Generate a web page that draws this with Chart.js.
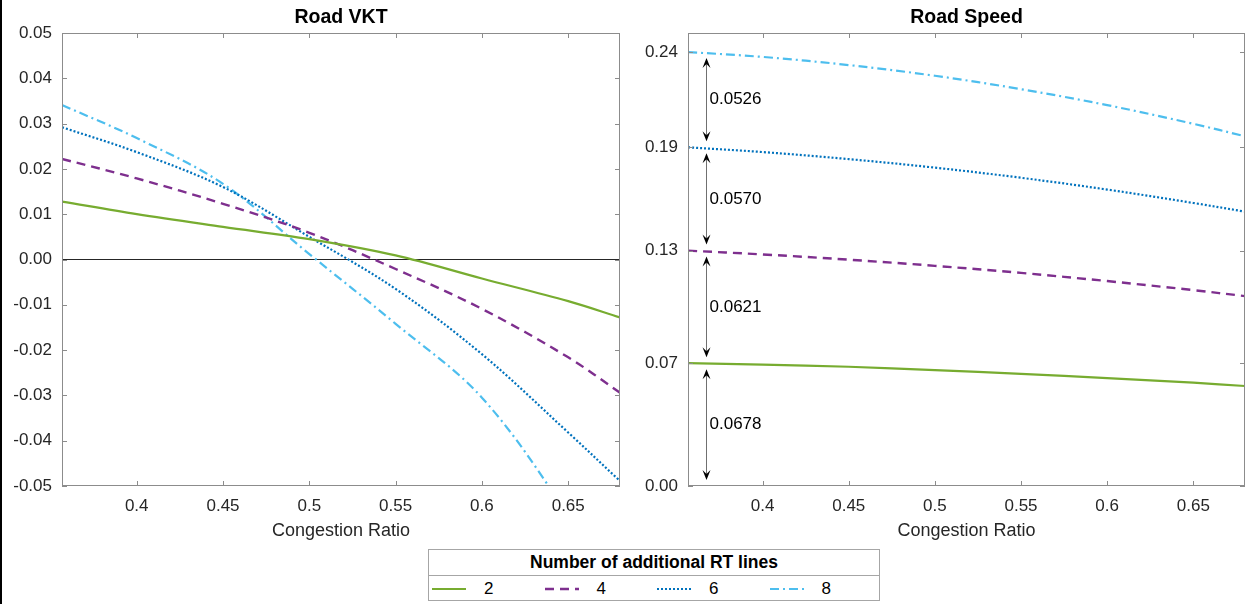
<!DOCTYPE html>
<html lang="en">
<head>
  <meta charset="UTF-8">
  <title>Road VKT / Road Speed</title>
  <script src="https://cdn.jsdelivr.net/npm/chart.js"></script>
  <style>
    body {
      margin: 0;
      background: #ffffff;
      font-family: "Liberation Sans", Arial, sans-serif;
    }

    #page {
      position: relative;
      width: 1247px;
      height: 604px;
      overflow: hidden;
    }

    #edge {
      position: absolute;
      left: 0;
      top: 0;
      width: 2px;
      height: 604px;
      background: #000;
    }

    #vkt { position: absolute; left: 0; top: 0; }
    #speed { position: absolute; left: 624px; top: 0; }

    #legend {
      position: absolute;
      left: 428px;
      top: 549px;
      width: 452px;
      height: 52px;
      border: 1px solid #a6a6a6;
      box-sizing: border-box;
      background: #fff;
    }

    .lg-title {
      height: 25px;
      line-height: 25px;
      text-align: center;
      font-weight: bold;
      font-size: 17.5px;
      color: #000;
      border-bottom: 1px solid #a6a6a6;
    }

    .lg-row {
      display: flex;
      height: 25px;
      align-items: center;
    }

    .lg-item {
      width: 113px;
      display: flex;
      align-items: center;
      padding-left: 3px;
      box-sizing: border-box;
      font-size: 17px;
      color: #000;
    }

    .lg-item svg { margin-right: 18px; }
  </style>
</head>
<body>
  <div id="page">
    <div id="edge"></div>
    <canvas id="vkt" width="624" height="545"></canvas>
    <canvas id="speed" width="623" height="545"></canvas>
    <div id="legend">
      <div class="lg-title">Number of additional RT lines</div>
      <div class="lg-row" id="lgRow"></div>
    </div>
  </div>

  <script>
    // ---- data ----
    const seriesNames = ['2', '4', '6', '8'];
    const congestion = [0.3567, 0.40, 0.45, 0.50, 0.55, 0.60, 0.65, 0.68];

    const vkt2 = [0.0128, 0.0100, 0.0072, 0.0045, 0.0009, -0.0042, -0.0092, -0.0128];
    const vkt4 = [0.0222, 0.0179, 0.0123, 0.0059, -0.0021, -0.0109, -0.0216, -0.0294];
    const vkt6 = [0.0292, 0.0237, 0.0160, 0.0050, -0.0065, -0.0209, -0.0382, -0.0489];
    const vkt8 = [0.0341, 0.0268, 0.0167, 0.0012, -0.0142, -0.0305, -0.0565, -0.0760];

    const speed2 = [0.0678, 0.0670, 0.0658, 0.0640, 0.0619, 0.0595, 0.0570, 0.0552];
    const speed4 = [0.1299, 0.1278, 0.1249, 0.1215, 0.1176, 0.1131, 0.1081, 0.1048];
    const speed6 = [0.1869, 0.1843, 0.1804, 0.1757, 0.1701, 0.1636, 0.1562, 0.1514];
    const speed8 = [0.2395, 0.2368, 0.2323, 0.2264, 0.2190, 0.2102, 0.1999, 0.1930];

    const xTicks = [0.40, 0.45, 0.50, 0.55, 0.60, 0.65];
    const xTickLabels = ['0.4', '0.45', '0.5', '0.55', '0.6', '0.65'];

    const vktTicks = [-0.05, -0.04, -0.03, -0.02, -0.01, 0, 0.01, 0.02, 0.03, 0.04, 0.05];
    const vktTickLabels = ['-0.05', '-0.04', '-0.03', '-0.02', '-0.01', '0.00', '0.01', '0.02', '0.03', '0.04', '0.05'];

    const speedTicks = [0, 0.0678, 0.1299, 0.1869, 0.2395];
    const speedTickLabels = ['0.00', '0.07', '0.13', '0.19', '0.24'];

    // double arrows between the starting speeds
    const gapLabels = ['0.0678', '0.0621', '0.0570', '0.0526'];
    const arrowAt = 0.3674;

    // ---- styles ----
    const colors = ['#77AC30', '#7E2F8E', '#0072BD', '#4DBEEE'];
    const dashes = [[], [9, 6], [2, 2], [9, 4, 2, 4]];
    const widths = [2.2, 2.4, 2.2, 2.2];
    const axisGrey = '#8c8c8c';
    const tickColor = '#262626';

    function pts(ys) {
      return congestion.map((x, i) => ({ x: x, y: ys[i] }));
    }

    function lineSet(i, ys) {
      return {
        label: seriesNames[i],
        data: pts(ys),
        borderColor: colors[i],
        borderWidth: widths[i],
        borderDash: dashes[i],
        pointRadius: 0,
        fill: false,
        tension: 0.35
      };
    }

    // box around the plot area with inward ticks on all four sides
    const framePlugin = {
      id: 'frame',
      afterDatasetsDraw(chart) {
        const ctx = chart.ctx;
        const a = chart.chartArea;
        const xs = chart.scales.x;
        const ys = chart.scales.y;
        ctx.save();
        ctx.strokeStyle = axisGrey;
        ctx.lineWidth = 1;
        ctx.strokeRect(a.left + 0.5, a.top + 0.5, a.right - a.left - 1, a.bottom - a.top - 1);
        ctx.beginPath();
        xTicks.forEach(v => {
          const px = Math.round(xs.getPixelForValue(v)) + 0.5;
          ctx.moveTo(px, a.bottom); ctx.lineTo(px, a.bottom - 5);
          ctx.moveTo(px, a.top); ctx.lineTo(px, a.top + 5);
        });
        ys.ticks.forEach(t => {
          const py = Math.round(ys.getPixelForValue(t.value)) + 0.5;
          ctx.moveTo(a.left, py); ctx.lineTo(a.left + 5, py);
          ctx.moveTo(a.right, py); ctx.lineTo(a.right - 5, py);
        });
        ctx.stroke();
        ctx.restore();
      }
    };

    function arrowHead(ctx, x, y, dir) {
      // dir -1 points up, +1 points down
      ctx.beginPath();
      ctx.moveTo(x, y);
      ctx.lineTo(x - 4, y - dir * 10);
      ctx.lineTo(x, y - dir * 6);
      ctx.lineTo(x + 4, y - dir * 10);
      ctx.closePath();
      ctx.fill();
    }

    const gapArrows = {
      id: 'gapArrows',
      afterDatasetsDraw(chart) {
        const ctx = chart.ctx;
        const xs = chart.scales.x;
        const ys = chart.scales.y;
        const x = Math.round(xs.getPixelForValue(arrowAt)) + 0.5;
        ctx.save();
        for (let i = 0; i < gapLabels.length; i++) {
          const yLow = ys.getPixelForValue(speedTicks[i]) - 6;
          const yHigh = ys.getPixelForValue(speedTicks[i + 1]) + 6;
          ctx.strokeStyle = '#707070';
          ctx.lineWidth = 1;
          ctx.beginPath();
          ctx.moveTo(x, yLow - 4);
          ctx.lineTo(x, yHigh + 4);
          ctx.stroke();
          ctx.fillStyle = '#000';
          arrowHead(ctx, x, yHigh, -1);
          arrowHead(ctx, x, yLow, 1);
          ctx.font = '17px "Liberation Sans", Arial, sans-serif';
          ctx.textAlign = 'left';
          ctx.textBaseline = 'middle';
          ctx.fillText(gapLabels[i], x + 3, (yLow + yHigh) / 2);
        }
        ctx.restore();
      }
    };

    function makeOptions(title, yMin, yMax, yTicks, yLabels, yWidth, padRight) {
      return {
        responsive: false,
        animation: false,
        devicePixelRatio: 1,
        layout: { padding: { left: 0, right: padRight, top: 0, bottom: 0 } },
        plugins: {
          legend: { display: false },
          tooltip: { enabled: false },
          title: {
            display: true,
            fullSize: false,
            text: title,
            color: '#000',
            font: { family: '"Liberation Sans", Arial, sans-serif', size: 19.5, weight: 'bold' },
            padding: { top: 6, bottom: 3.6 }
          }
        },
        scales: {
          x: {
            type: 'linear',
            min: congestion[0],
            max: congestion[congestion.length - 1],
            grid: { display: false, drawTicks: false },
            border: { display: false },
            afterBuildTicks: s => { s.ticks = xTicks.map(v => ({ value: v })); },
            afterFit: s => { s.height = 59; },
            ticks: {
              autoSkip: false,
              maxRotation: 0,
              padding: 10,
              color: tickColor,
              font: { family: '"Liberation Sans", Arial, sans-serif', size: 17 },
              callback: (v, i) => xTickLabels[i]
            },
            title: {
              display: true,
              text: 'Congestion Ratio',
              color: tickColor,
              font: { family: '"Liberation Sans", Arial, sans-serif', size: 18 },
              padding: { top: 0, bottom: 3 }
            }
          },
          y: {
            type: 'linear',
            min: yMin,
            max: yMax,
            grid: { display: false, drawTicks: false },
            border: { display: false },
            afterBuildTicks: s => { s.ticks = yTicks.map(v => ({ value: v })); },
            afterFit: s => { s.width = yWidth; },
            ticks: {
              autoSkip: false,
              padding: 10,
              color: tickColor,
              font: { family: '"Liberation Sans", Arial, sans-serif', size: 17 },
              callback: (v, i) => yLabels[i]
            }
          }
        }
      };
    }

    new Chart(document.getElementById('vkt'), {
      type: 'line',
      data: {
        datasets: [
          lineSet(0, vkt2),
          lineSet(1, vkt4),
          lineSet(2, vkt6),
          lineSet(3, vkt8),
          {
            label: 'zero',
            data: [{ x: congestion[0], y: 0 }, { x: congestion[congestion.length - 1], y: 0 }],
            borderColor: '#262626',
            borderWidth: 1.2,
            pointRadius: 0
          }
        ]
      },
      options: makeOptions('Road VKT', -0.05, 0.05, vktTicks, vktTickLabels, 62, 4),
      plugins: [framePlugin]
    });

    new Chart(document.getElementById('speed'), {
      type: 'line',
      data: {
        datasets: [
          lineSet(0, speed2),
          lineSet(1, speed4),
          lineSet(2, speed6),
          lineSet(3, speed8)
        ]
      },
      options: makeOptions('Road Speed', 0, 0.25, speedTicks, speedTickLabels, 64, 2),
      plugins: [framePlugin, gapArrows]
    });

    // shared legend below both panels
    const row = document.getElementById('lgRow');
    seriesNames.forEach((name, i) => {
      const item = document.createElement('div');
      item.className = 'lg-item';
      const dash = dashes[i].length ? dashes[i].join(' ') : 'none';
      item.innerHTML =
        '<svg width="34" height="6"><line x1="0" y1="3" x2="34" y2="3" stroke="' + colors[i] +
        '" stroke-width="' + widths[i] + '" stroke-dasharray="' + dash + '"/></svg><span>' + name + '</span>';
      row.appendChild(item);
    });
  </script>
</body>
</html>
